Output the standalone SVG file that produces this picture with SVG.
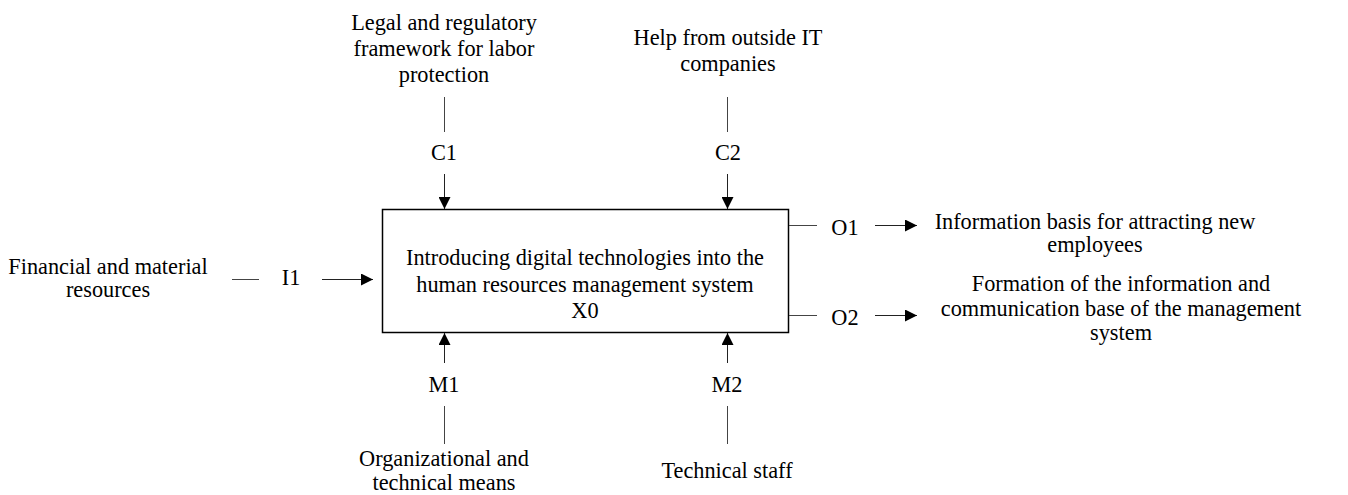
<svg xmlns="http://www.w3.org/2000/svg" width="1348" height="495" viewBox="0 0 1348 495">
<style>
text{font-family:"Liberation Serif","Times New Roman",serif;font-size:22.3px;fill:#000;text-anchor:middle}
.ln{stroke:#444;stroke-width:1;fill:none}
.ar{stroke:#222;stroke-width:1;fill:none;marker-end:url(#ah)}
</style>
<defs>
<marker id="ah" markerWidth="12" markerHeight="12" viewBox="0 0 12 12" refX="12" refY="6" orient="auto" markerUnits="userSpaceOnUse">
<path d="M0,0 L12,6 L0,12 Z" fill="#000"/>
</marker>
</defs>
<rect width="1348" height="495" fill="#fff"/>
<g id="X0">
<rect x="382.5" y="209.5" width="406" height="123" fill="#fff" stroke="#000" stroke-width="1.5"/>
<text x="585" y="265">Introducing digital technologies into the</text>
<text x="585" y="292">human resources management system</text>
<text x="585" y="318">X0</text>
</g>
<g id="connectors">
<line class="ln" x1="444.5" y1="97" x2="444.5" y2="132"/>
<line class="ar" x1="444.5" y1="174" x2="444.5" y2="209"/>
<line class="ln" x1="727.5" y1="97" x2="727.5" y2="132"/>
<line class="ar" x1="727.5" y1="174" x2="727.5" y2="209"/>
<line class="ar" x1="444.5" y1="363" x2="444.5" y2="333"/>
<line class="ln" x1="444.5" y1="406" x2="444.5" y2="444"/>
<line class="ar" x1="727.5" y1="363" x2="727.5" y2="333"/>
<line class="ln" x1="727.5" y1="406" x2="727.5" y2="444"/>
<line class="ln" x1="232" y1="279.5" x2="259" y2="279.5"/>
<line class="ar" x1="322" y1="279.5" x2="373" y2="279.5"/>
<line class="ln" x1="789" y1="225.5" x2="817" y2="225.5"/>
<line class="ar" x1="875" y1="225.5" x2="917" y2="225.5"/>
<line class="ln" x1="789" y1="315.5" x2="817" y2="315.5"/>
<line class="ar" x1="875" y1="315.5" x2="917" y2="315.5"/>
</g>
<g id="C1">
<text x="444" y="30">Legal and regulatory</text>
<text x="444" y="56">framework for labor</text>
<text x="444" y="82">protection</text>
<text x="444" y="160">C1</text>
</g>
<g id="C2">
<text x="728" y="45">Help from outside IT</text>
<text x="728" y="71">companies</text>
<text x="728" y="160">C2</text>
</g>
<g id="I1">
<text x="108" y="274">Financial and material</text>
<text x="108" y="297">resources</text>
<text x="291" y="285">I1</text>
</g>
<g id="M1">
<text x="444" y="392">M1</text>
<text x="444" y="466">Organizational and</text>
<text x="444" y="490">technical means</text>
</g>
<g id="M2">
<text x="727" y="392">M2</text>
<text x="727" y="478">Technical staff</text>
</g>
<g id="O1">
<text x="845" y="235">O1</text>
<text x="1095" y="229">Information basis for attracting new</text>
<text x="1095" y="252">employees</text>
</g>
<g id="O2">
<text x="845" y="325">O2</text>
<text x="1121" y="291">Formation of the information and</text>
<text x="1121" y="316">communication base of the management</text>
<text x="1121" y="340">system</text>
</g>
</svg>
